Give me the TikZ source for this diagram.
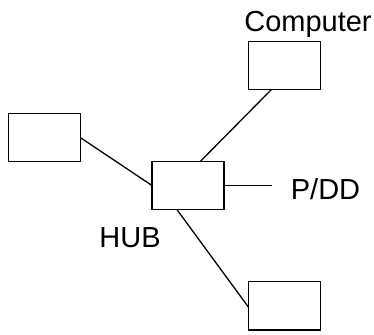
\documentclass[tikz,border=0pt]{standalone}
\usepackage{fontspec}
\setmainfont{Liberation Sans}
\begin{document}
\begin{tikzpicture}[x=1pt,y=-1pt,
  box/.style={draw,line width=1.3pt,minimum width=72pt,minimum height=47.5pt,inner sep=0pt,outer sep=0pt},
  lbl/.style={inner sep=0pt,anchor=base,font=\fontsize{29}{31}\selectfont},
  wire/.style={line width=1.3pt}]
\useasboundingbox (0,0) rectangle (374,334);
\node[box] (comp) at (284.5,65.5) {};
\node[box] (left) at (44.2,137.5) {};
\node[box] (hub) at (188,185.5) {};
\node[box,minimum height=48.5pt] (bot) at (284.5,305.7) {};
\coordinate (pend) at (272,185.5);
\node[lbl] (tcomp) at (308,31.5) {Computer};
\node[lbl] (tpdd) at (325.5,199) {P/DD};
\node[lbl] (thub) at (130,247) {HUB};
\draw[wire] (left.east) -- (hub.west);
\draw[wire] ([xshift=12pt]hub.north) -- ([xshift=-12.8pt]comp.south);
\draw[wire] (hub.east) -- (pend);
\draw[wire] ([xshift=-11.3pt]hub.south) -- ([yshift=-1.5pt]bot.west);
\end{tikzpicture}
\end{document}
